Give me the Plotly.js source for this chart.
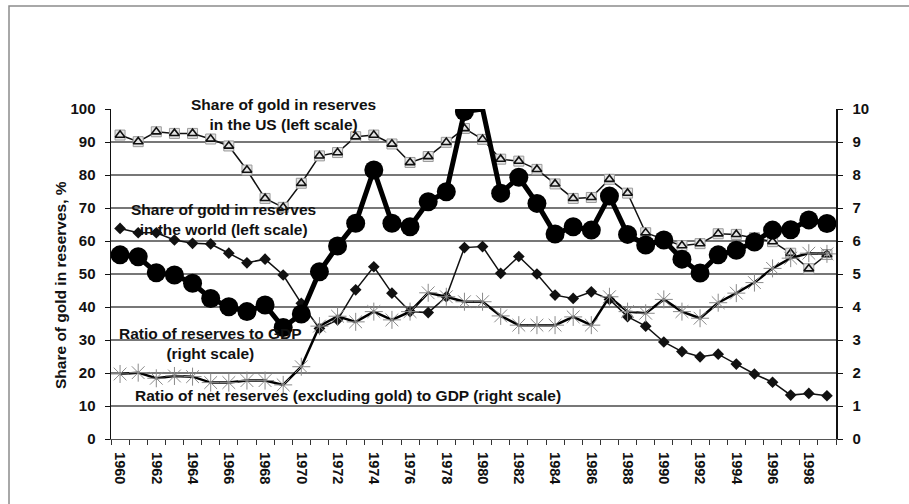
<!DOCTYPE html>
<html>
<head>
<meta charset="utf-8">
<script src="https://cdn.plot.ly/plotly-3.0.1.min.js"></script>
<style>html,body{margin:0;padding:0;background:#fff}#chart{width:909px;height:504px}</style>
</head>
<body>
<div id="chart"></div>
<script>
// ---- data ----
const years = [1960,1961,1962,1963,1964,1965,1966,1967,1968,1969,
               1970,1971,1972,1973,1974,1975,1976,1977,1978,1979,
               1980,1981,1982,1983,1984,1985,1986,1987,1988,1989,
               1990,1991,1992,1993,1994,1995,1996,1997,1998,1999];

// Share of gold in reserves in the US, % (left scale)
const usGoldShare = [92.1,90.1,93.1,92.6,92.6,90.9,88.8,81.5,72.9,70.2,
                     77.5,85.8,86.8,91.6,92.1,89.4,83.8,85.6,89.9,94.1,
                     90.8,84.8,84.2,81.7,77.3,72.9,73.2,78.7,74.5,62.5,
                     60.5,58.6,59.2,62.2,62.0,61.0,59.8,56.3,51.6,55.9];

// Share of gold in reserves in the world, % (left scale)
const worldGoldShare = [63.8,62.5,62.5,60.3,59.3,59.1,56.3,53.4,54.5,49.7,
                        41.1,33.5,36.1,45.2,52.2,44.2,38.6,38.3,43.1,58.0,
                        58.3,50.2,55.3,50.0,43.6,42.6,44.6,42.3,37.1,34.2,
                        29.4,26.5,24.9,25.7,22.7,19.7,17.2,13.3,13.8,13.1];

// Ratio of reserves to GDP (right scale)
const reservesToGDP = [5.58,5.52,5.04,4.97,4.72,4.26,4.01,3.86,4.06,3.38,
                       3.79,5.07,5.85,6.54,8.15,6.54,6.43,7.19,7.49,9.92,
                       10.0,7.45,7.93,7.14,6.21,6.43,6.33,7.36,6.20,5.88,
                       6.03,5.45,5.03,5.58,5.72,5.97,6.33,6.34,6.64,6.53];

// Ratio of net reserves (excluding gold) to GDP (right scale)
const netReservesToGDP = [1.97,2.01,1.84,1.91,1.89,1.71,1.71,1.77,1.77,1.64,
                          2.19,3.42,3.72,3.55,3.86,3.61,3.86,4.43,4.31,4.16,
                          4.16,3.73,3.45,3.45,3.45,3.70,3.45,4.31,3.86,3.81,
                          4.23,3.86,3.66,4.13,4.42,4.74,5.17,5.48,5.63,5.61];

const leftTicks = [0,10,20,30,40,50,60,70,80,90,100];
const rightTicks = [0,1,2,3,4,5,6,7,8,9,10];
const gridTicks = [10,20,30,40,50,60,70,80,90];
const labelYears = years.filter(y => y % 2 === 0);

const labels = {
  us: 'Share of gold in reserves<br>in the US (left scale)',
  world: 'Share of gold in reserves<br>in the world (left scale)',
  ratio: 'Ratio of reserves to GDP<br>(right scale)',
  net: 'Ratio of net reserves (excluding gold) to GDP (right scale)',
  yTitle: 'Share of gold in reserves, %'
};

// ---- layout helpers (pixel -> paper) ----
const W = 909, H = 504, L = 111, R = 836, T = 109, B = 439;
const px = x => (x - L) / (R - L);
const py = y => (B - y) / (B - T);

const FONT = 'Arial, "Liberation Sans", sans-serif';
const INK = '#111';

// marker for 1980 is outside the drawn area in the original (hidden)
const ratioSizes = reservesToGDP.map(v => v >= 10 ? 0 : 19);

const traces = [
  { x: years, y: usGoldShare, yaxis: 'y', mode: 'lines+markers', hoverinfo: 'skip',
    line: { color: INK, width: 1.5 },
    marker: { symbol: 'square', size: 10, color: '#e4e4e4', opacity: 1, line: { color: '#9a9a9a', width: 1 } } },
  { x: years, y: usGoldShare, yaxis: 'y', mode: 'markers', hoverinfo: 'skip',
    marker: { symbol: 'triangle-up-open', size: 8.5, color: INK, opacity: 1, line: { color: INK, width: 1.6 } } },
  { x: years, y: worldGoldShare, yaxis: 'y', mode: 'lines+markers', hoverinfo: 'skip',
    line: { color: INK, width: 1.5 },
    marker: { symbol: 'diamond', size: 9, color: INK, opacity: 1 } },
  { x: years, y: reservesToGDP, yaxis: 'y2', mode: 'lines+markers', hoverinfo: 'skip',
    line: { color: '#000', width: 5 },
    marker: { symbol: 'circle', size: ratioSizes, color: '#000', opacity: 1, line: { width: 0 } } },
  { x: years, y: netReservesToGDP, yaxis: 'y2', mode: 'lines+markers', hoverinfo: 'skip',
    line: { color: '#000', width: 2.5 },
    marker: { symbol: 'asterisk-open', size: 15, color: '#8a8a8a', opacity: 1, line: { color: '#8a8a8a', width: 1 } } }
];

const ann = (text, x, y, extra) => Object.assign({
  text, xref: 'paper', yref: 'paper', x: px(x), y: py(y),
  xanchor: 'center', yanchor: 'middle', showarrow: false, align: 'center',
  font: { family: FONT, size: 15.5, color: INK, weight: 'bold' }
}, extra || {});

const layout = {
  width: W, height: H,
  margin: { l: L, r: W - R, t: T, b: H - B, pad: 0 },
  paper_bgcolor: '#fff', plot_bgcolor: 'rgba(0,0,0,0)',
  showlegend: false,
  font: { family: FONT, size: 15, color: INK, weight: 'bold' },
  xaxis: {
    type: 'linear', range: [years[0] - 0.5, years[years.length - 1] + 0.5],
    tickmode: 'array', tickvals: labelYears, ticktext: labelYears.map(String),
    tickangle: 90, ticks: '', ticklabelstandoff: 9,
    tickfont: { family: FONT, size: 14.5, color: INK, weight: 'bold' },
    showgrid: false, zeroline: false, showline: true, linecolor: '#555', linewidth: 1.2,
    minor: { tickmode: 'array', tickvals: years.map(y => y - 0.5).concat([years[years.length - 1] + 0.5]),
             ticks: 'outside', ticklen: 5, tickcolor: '#333', tickwidth: 1, showgrid: false }
  },
  yaxis: {
    range: [0, 100], tickmode: 'array', tickvals: leftTicks,
    ticks: 'outside', ticklen: 5, tickcolor: INK, tickwidth: 1, ticklabelstandoff: 6,
    tickfont: { family: FONT, size: 15, color: INK, weight: 'bold' },
    showgrid: false, zeroline: false, showline: true, linecolor: INK, linewidth: 1.5
  },
  yaxis2: {
    overlaying: 'y', side: 'right', range: [0, 10], tickmode: 'array', tickvals: rightTicks,
    ticks: 'outside', ticklen: 5, tickcolor: INK, tickwidth: 1, ticklabelstandoff: 7,
    tickfont: { family: FONT, size: 15, color: INK, weight: 'bold' },
    showgrid: false, zeroline: false, showline: true, linecolor: INK, linewidth: 1.5
  },
  yaxis3: {
    overlaying: 'y', range: [0, 100], tickmode: 'array', tickvals: gridTicks,
    showticklabels: false, ticks: '', showline: false, zeroline: false,
    showgrid: true, gridcolor: '#777', gridwidth: 1.2
  },
  shapes: [
    { type: 'rect', xref: 'paper', yref: 'paper',
      x0: px(9), x1: px(925), y0: py(520), y1: py(6),
      line: { color: '#8c8c8c', width: 1.5 }, fillcolor: 'rgba(0,0,0,0)', layer: 'below' }
  ],
  annotations: [
    ann(labels.us, 283, 114),
    ann(labels.world, 223, 219),
    ann(labels.ratio, 210, 343),
    ann(labels.net, 348, 395),
    ann(labels.yTitle, 60, 285, { textangle: -90, font: { family: FONT, size: 15.5, color: INK, weight: 'bold' } })
  ]
};

// empty trace on y3 so the gridline axis is created
traces.unshift({ x: [years[0]], y: [null], yaxis: 'y3', mode: 'lines', hoverinfo: 'skip', showlegend: false });

Plotly.newPlot('chart', traces, layout, { staticPlot: true, displayModeBar: false });
</script>
</body>
</html>
